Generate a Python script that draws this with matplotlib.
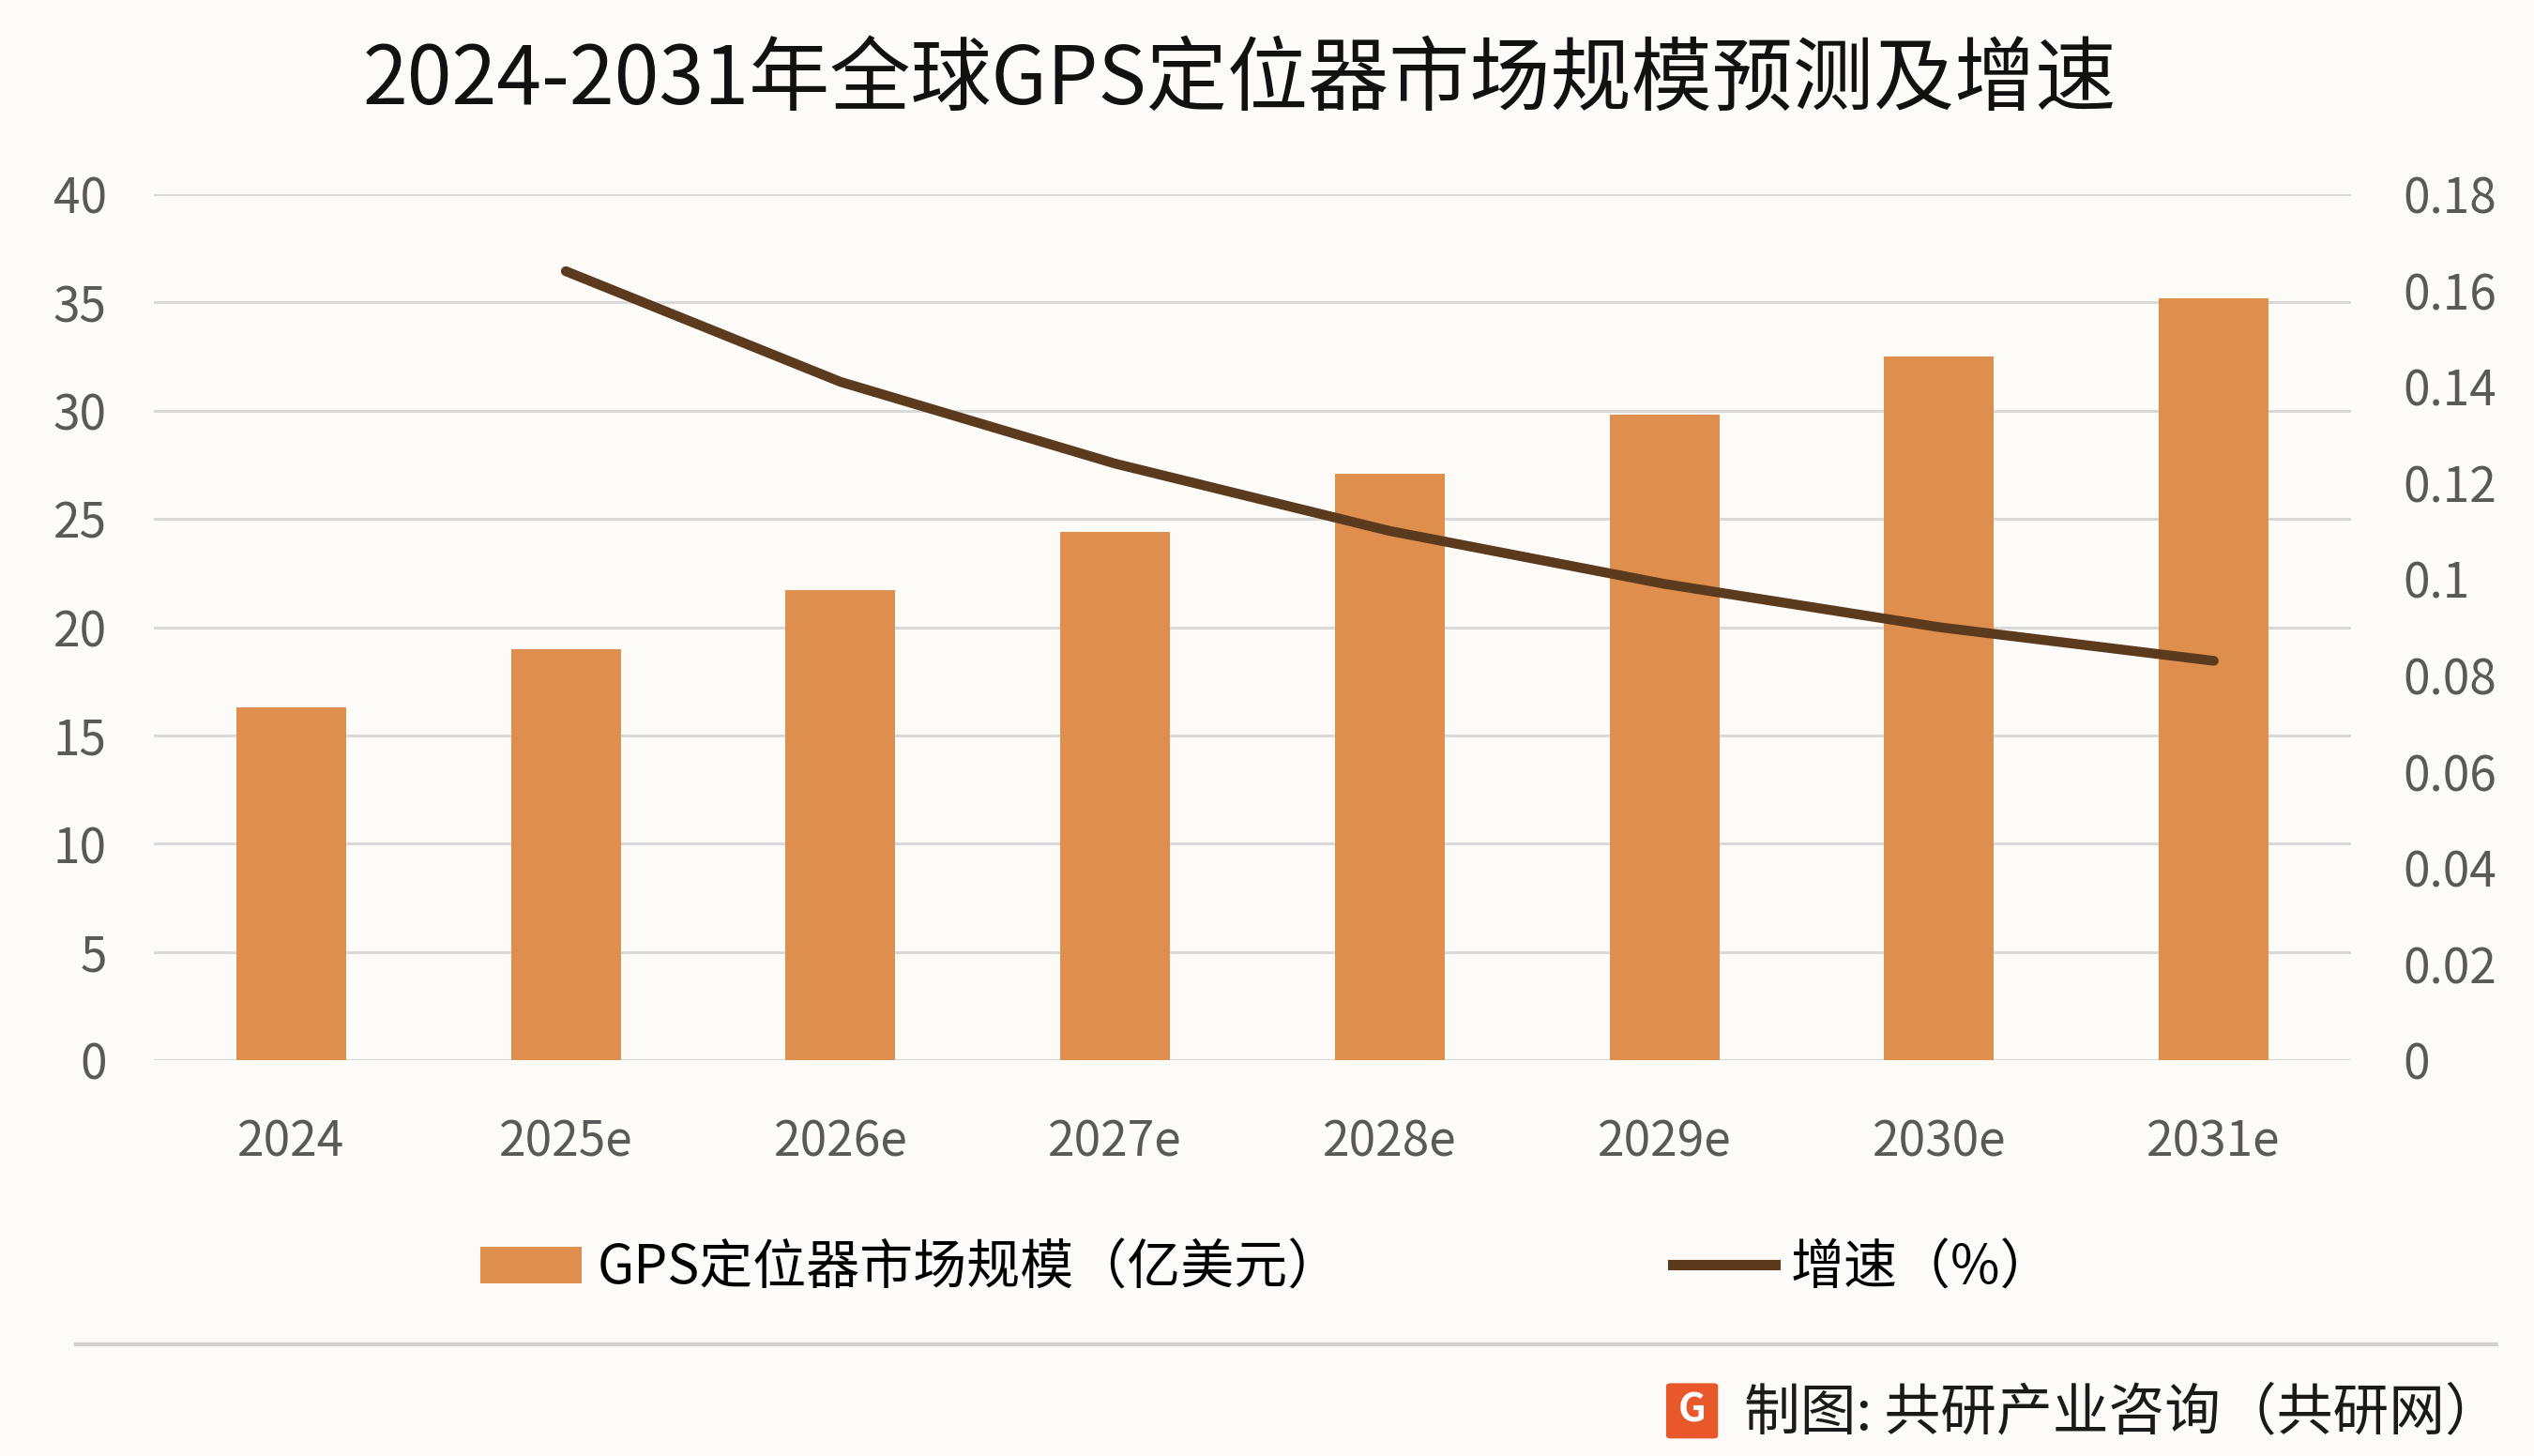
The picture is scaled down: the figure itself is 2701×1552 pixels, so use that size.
import matplotlib
matplotlib.use("Agg")
import matplotlib.pyplot as plt
import numpy as np
from matplotlib.patches import Patch, FancyBboxPatch
from matplotlib.lines import Line2D

plt.rcParams['font.family'] = ['Noto Sans CJK SC', 'DejaVu Sans']

# data
years = ["2024", "2025e", "2026e", "2027e", "2028e", "2029e", "2030e", "2031e"]
market_size = [16.3, 19.0, 21.7, 24.4, 27.1, 29.8, 32.5, 35.2]
growth = [np.nan, 0.164, 0.141, 0.124, 0.110, 0.099, 0.090, 0.083]

bar_color = "#DE8F4E"
line_color = "#5C3A1E"
bg = "#FCFBF7"
tick_color = "#595959"

fig = plt.figure(figsize=(27.01, 15.52), dpi=100, facecolor=bg)
ax = fig.add_axes([0.0607, 0.2719, 0.8671, 0.5947])
ax.set_facecolor(bg)

x = np.arange(len(years))
ax.bar(x, market_size, width=0.4, color=bar_color, zorder=3)
ax.set_xlim(-0.5, len(years) - 0.5)
ax.set_ylim(0, 40)
ax.set_yticks(np.arange(0, 41, 5))
ax.set_xticks(x)
ax.set_xticklabels(years)
ax.grid(axis="y", color="#D9D9D9", linewidth=2.2, zorder=0)
ax.tick_params(axis="both", length=0, labelsize=37, colors=tick_color)
ax.tick_params(axis="x", pad=44)
ax.tick_params(axis="y", pad=36)
for s in ax.spines.values():
    s.set_visible(False)

ax2 = ax.twinx()
ax2.plot(x, growth, color=line_color, linewidth=7.5, solid_capstyle="round", zorder=4)
ax2.set_ylim(0, 0.18)
ax2.set_yticks(np.arange(0, 0.181, 0.02))
ax2.set_yticklabels(["0", "0.02", "0.04", "0.06", "0.08", "0.1", "0.12", "0.14", "0.16", "0.18"])
ax2.tick_params(axis="y", length=0, labelsize=37, colors=tick_color, pad=40)
for s in ax2.spines.values():
    s.set_visible(False)

fig.text(0.489, 0.9445, "2024-2031年全球GPS定位器市场规模预测及增速",
         ha="center", va="center", fontsize=62, color="#111111")

handles = [Patch(facecolor=bar_color, edgecolor="none"),
           Line2D([0], [0], color=line_color, linewidth=8)]
labels = ["GPS定位器市场规模（亿美元）", "增速（%）"]
fig.legend(handles, labels, loc="center", bbox_to_anchor=(0.5, 0.129), ncol=2,
           frameon=False, fontsize=41, handlelength=1.9, handleheight=0.68,
           handletextpad=0.3, columnspacing=6.2)

fig.add_artist(Line2D([47 / 1568, 1545 / 1568], [1 - 832 / 901] * 2,
                      color="#D0D0D0", linewidth=3))

# footer logo + source
logo = FancyBboxPatch((0.6595, 0.014), 0.0165, 0.034, boxstyle="round,pad=0.002",
                      transform=fig.transFigure, facecolor="#E9582B", edgecolor="none")
fig.add_artist(logo)
fig.text(0.6677, 0.031, "G", ha="center", va="center", fontsize=30,
         color="white", fontweight="bold")
fig.text(0.987, 0.029, "制图: 共研产业咨询（共研网）", ha="right", va="center",
         fontsize=43, color="#1A1A1A")

fig.savefig("out.png", dpi=100, facecolor=bg)
